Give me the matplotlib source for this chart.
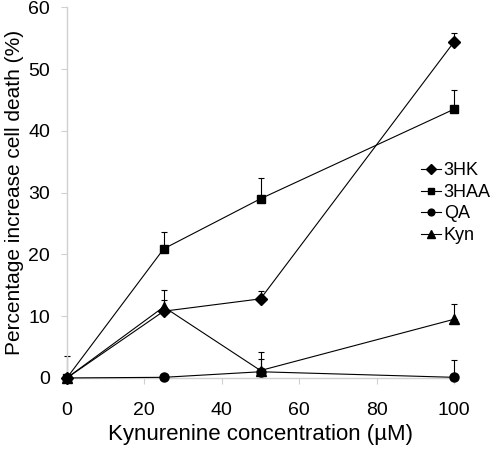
import matplotlib
matplotlib.use("Agg")
import matplotlib.pyplot as plt
import numpy as np

plt.rcParams['font.family'] = ['Liberation Sans', 'DejaVu Sans']

conc = [0, 25, 50, 100]
hk3 = [0, 10.8, 12.8, 54.4]
hk3_err = [0, 1.8, 1.2, 1.4]
haa3 = [0, 20.9, 29.0, 43.5]
haa3_err = [3.6, 2.7, 3.4, 3.1]
qa = [0, 0.1, 1.0, 0.1]
qa_err = [0, 0, 3.2, 2.8]
kyn = [0, 11.5, 1.2, 9.5]
kyn_err = [0, 2.7, 1.9, 2.4]

series = [
    ("3HK", hk3, hk3_err, "D", 6.2, 3),
    ("3HAA", haa3, haa3_err, "s", 6.2, 4),
    ("QA", qa, qa_err, "o", 6.5, 3),
    ("Kyn", kyn, kyn_err, "^", 7.5, 3),
]

fig = plt.figure(figsize=(4.92, 4.51), dpi=100)
ax = fig.add_axes([0.136, 0.162, 0.787, 0.822])

for name, vals, errs, mk, ms, z in series:
    lower = np.zeros(len(vals))
    ax.errorbar(conc, vals, yerr=[lower, errs], fmt='none', ecolor='black',
                elinewidth=0.8, capsize=2.2, capthick=0.8, clip_on=False, zorder=2)
    ax.plot(conc, vals, color='black', lw=0.8, marker=mk, markersize=ms,
            markerfacecolor='black', markeredgecolor='black', label=name,
            clip_on=False, zorder=z)

ax.set_xlim(0, 100)
ax.set_ylim(0, 60)
ax.set_xticks([0, 20, 40, 60, 80, 100])
ax.set_yticks([0, 10, 20, 30, 40, 50, 60])
for s in ['top', 'right']:
    ax.spines[s].set_visible(False)
for s in ['left', 'bottom']:
    ax.spines[s].set_color('#d0d0d0')
    ax.spines[s].set_linewidth(1.0)
ax.tick_params(axis='both', colors='#d0d0d0', labelcolor='black', labelsize=14,
               length=4, direction='out')
ax.tick_params(axis='x', pad=13)
ax.tick_params(axis='y', pad=8)
ax.set_xlabel("Kynurenine concentration (µM)", fontsize=16, labelpad=4)
ax.set_ylabel("Percentage increase cell death (%)", fontsize=15, labelpad=3)

leg = ax.legend(loc='upper left', bbox_to_anchor=(0.896, 0.601), frameon=False,
                fontsize=13, handlelength=1.1, handletextpad=0.15,
                labelspacing=0.25, borderaxespad=0, markerscale=0.75)

fig.savefig("out.png", dpi=100)
